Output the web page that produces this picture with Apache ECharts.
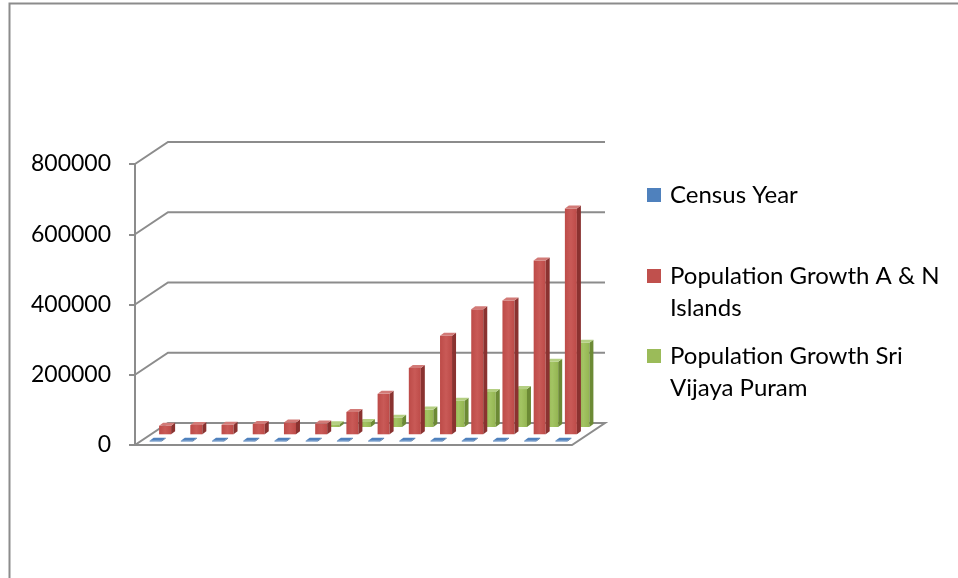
<!DOCTYPE html>
<html>
<head>
<meta charset="utf-8">
<title>Population Growth</title>
<script src="https://cdn.jsdelivr.net/npm/echarts@6/dist/echarts.min.js"></script>
<style>
  html, body { margin: 0; padding: 0; background: #fff; }
  #chart { width: 958px; height: 578px; }
</style>
</head>
<body>
<div id="chart"></div>
<script>
// data
const years = ['1901', '1911', '1921', '1931', '1941', '1951', '1961', '1971', '1981', '1991', '2001', '2011', '2021', '2031']
const censusYear = [1901, 1911, 1921, 1931, 1941, 1951, 1961, 1971, 1981, 1991, 2001, 2011, 2021, 2031]
const popAN = [24649, 26459, 27086, 29463, 33768, 30971, 63548, 115133, 188741, 280661, 356152, 380581, 495000, 643000]
const popSVP = [null, null, null, null, null, 7789, 14075, 26218, 49634, 74955, 99984, 108058, 186000, 240000]
const yTicks = [0, 200000, 400000, 600000, 800000]

// pseudo 3d: depth of the floor and offsets of each row
const DX = 33, DY = -22
const SIDE_X = 4, SIDE_Y = -3
const BAR_W = 0.385
const grey = '#8c8c8c'
const font = 'Lato, "Liberation Sans", sans-serif'

function box(offX, offY, col) {
  return function (params, api) {
    const v = api.value(1)
    if (v == null || isNaN(v)) return null
    const i = api.value(0)
    const base = api.coord([i, 0])
    const top = api.coord([i, v])
    const w = api.size([1, 0])[0] * BAR_W
    const xl = base[0] - w / 2 + offX
    const xr = xl + w
    const yb = base[1] + offY
    const yt = top[1] + offY
    return {
      type: 'group',
      children: [
        { type: 'polygon', shape: { points: [[xl, yb], [xr, yb], [xr, yt], [xl, yt]] },
          style: { fill: { type: 'linear', x: 0, y: 0, x2: 1, y2: 0,
            colorStops: [{ offset: 0, color: col.front }, { offset: 0.5, color: col.light }, { offset: 1, color: col.front }] } } },
        { type: 'polygon', shape: { points: [[xr, yb], [xr + SIDE_X, yb + SIDE_Y], [xr + SIDE_X, yt + SIDE_Y], [xr, yt]] },
          style: { fill: col.side } },
        { type: 'polygon', shape: { points: [[xl, yt], [xr, yt], [xr + SIDE_X, yt + SIDE_Y], [xl + SIDE_X, yt + SIDE_Y]] },
          style: { fill: col.top } },
      ],
    }
  }
}

// back wall lines + floor
function wall(params, api) {
  const v = api.value(1)
  const y = api.coord([0, v])[1]
  const cs = params.coordSys
  const x0 = cs.x, x1 = cs.x + cs.width
  const children = []
  if (v === 0) {
    children.push({
      type: 'polygon',
      shape: { points: [[x0, y], [x1, y], [x1 + DX, y + DY], [x0 + DX, y + DY]] },
      style: { fill: '#fff', stroke: grey, lineWidth: 2 },
    })
  } else {
    children.push({
      type: 'polyline',
      shape: { points: [[x0, y], [x0 + DX, y + DY], [x1 + DX, y + DY]] },
      style: { fill: null, stroke: grey, lineWidth: 2 },
    })
  }
  return { type: 'group', children: children }
}

const chart = echarts.init(document.getElementById('chart'), null, { renderer: 'canvas' })

// two-line legend names: a blank first line keeps the icon level with the first text line
const legendText = {
  'Population Growth A & N Islands': '{s| }\n{t|Population Growth A & N}\n{t|Islands}',
  'Population Growth Sri Vijaya Puram': '{s| }\n{t|Population Growth Sri}\n{t|Vijaya Puram}',
}

function legendBox(name, top) {
  return {
    data: [name],
    left: 647,
    top: top,
    padding: 0,
    icon: 'rect',
    itemWidth: 14,
    itemHeight: 14,
    selectedMode: false,
    formatter: function (n) {
      return legendText[n] || '{t|' + n + '}'
    },
    textStyle: {
      fontFamily: font,
      fontSize: 24,
      color: '#000',
      lineHeight: 32,
      rich: {
        s: { fontSize: 24, lineHeight: 32 },
        t: { fontFamily: font, fontSize: 24, lineHeight: 32, color: '#000', padding: [0, 0, 0, 4] },
      },
    },
  }
}

const option = {
  animation: false,
  backgroundColor: '#fff',
  graphic: [{
    type: 'polyline',
    shape: { points: [[9.5, 578], [9.5, 3.5], [958, 3.5]] },
    style: { fill: null, stroke: grey, lineWidth: 2 },
  }],
  legend: [
    legendBox('Census Year', 179),
    legendBox('Population Growth A & N Islands', 228),
    legendBox('Population Growth Sri Vijaya Puram', 308),
  ],
  grid: { left: 135, right: 386, top: 164, bottom: 133, containLabel: false },
  xAxis: {
    type: 'category',
    data: years,
    axisLine: { show: false },
    axisTick: { show: false },
    axisLabel: { show: false },
  },
  yAxis: {
    type: 'value',
    min: 0,
    max: 800000,
    interval: 200000,
    axisLine: { show: true, lineStyle: { color: grey, width: 2 } },
    axisTick: { show: true, length: 6, lineStyle: { color: grey, width: 2 } },
    splitLine: { show: false },
    axisLabel: {
      fontFamily: font, fontSize: 23, color: '#000', margin: 24,
      formatter: function (v) { return String(v) },
    },
  },
  series: [
    {
      name: 'wall',
      type: 'custom',
      z: 1,
      silent: true,
      renderItem: wall,
      data: yTicks.map(v => [0, v]),
      encode: { x: 0, y: 1 },
    },
    {
      name: 'Population Growth Sri Vijaya Puram',
      type: 'custom',
      z: 2,
      itemStyle: { color: '#9bbb59' },
      renderItem: box(27, -18, { front: '#94b552', light: '#a3c463', side: '#6c8a35', top: '#b4cf82' }),
      data: popSVP.map((v, i) => [i, v]),
      encode: { x: 0, y: 1 },
    },
    {
      name: 'Population Growth A & N Islands',
      type: 'custom',
      z: 3,
      itemStyle: { color: '#c0504d' },
      renderItem: box(14.5, -10.7, { front: '#bd4b48', light: '#c95a57', side: '#8a3230', top: '#d27a77' }),
      data: popAN.map((v, i) => [i, v]),
      encode: { x: 0, y: 1 },
    },
    {
      name: 'Census Year',
      type: 'custom',
      z: 4,
      itemStyle: { color: '#4f81bd' },
      renderItem: box(5, -3.5, { front: '#3f6ea8', light: '#4f81bd', side: '#2f5685', top: '#4f81bd' }),
      data: censusYear.map((v, i) => [i, v]),
      encode: { x: 0, y: 1 },
    },
  ],
}

chart.setOption(option)
</script>
</body>
</html>
